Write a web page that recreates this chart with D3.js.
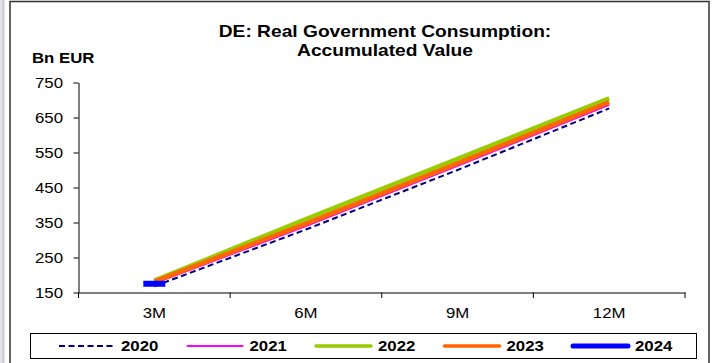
<!DOCTYPE html>
<html>
<head>
<meta charset="utf-8">
<script src="https://cdn.jsdelivr.net/npm/d3@7/dist/d3.min.js"></script>
<style>
  html, body { margin: 0; padding: 0; background: #fff; }
  svg { display: block; font-family: "Liberation Sans", Arial, sans-serif; }
</style>
</head>
<body>
<svg id="chart" width="712" height="363"></svg>
<script>
// ---- data ----
const categories = ["3M", "6M", "9M", "12M"];
const yTicks = [150, 250, 350, 450, 550, 650, 750];
const years = ["2020", "2021", "2022", "2023", "2024"];
const v2020 = [168, 330, 500, 676];
const v2021 = [176, 340, 512, 686];
const v2022 = [184, 360, 532, 705];
const v2023 = [181, 347, 519, 694];
const v2024 = [175];
const titleLines = ["DE: Real Government Consumption:", "Accumulated Value"];
const yUnit = "Bn EUR";

const seriesValues = [v2020, v2021, v2022, v2023, v2024];
const styles = [
  { color: "#000080", width: 2, dash: "6,3.5", legendWidth: 2 },
  { color: "#FF00FF", width: 2, dash: null, legendWidth: 2 },
  { color: "#99CC00", width: 4.5, dash: null, legendWidth: 3.5 },
  { color: "#FF6600", width: 4.5, dash: null, legendWidth: 3.5 },
  { color: "#0000FF", width: 6, dash: null, legendWidth: 5 }
];

const svg = d3.select("#chart");
const SX = 1.2; // horizontal text stretch of the original

function txt(g, x, y, s, opts) {
  opts = opts || {};
  return g.append("text")
    .attr("transform", `translate(${x},${y}) scale(${SX},1)`)
    .attr("text-anchor", opts.anchor || "start")
    .attr("font-size", opts.size || 14)
    .attr("font-weight", opts.bold ? "bold" : "normal")
    .attr("fill", "#000")
    .text(s);
}

// left gray strip & frame
svg.append("rect").attr("x", 0).attr("y", 0).attr("width", 5).attr("height", 363).attr("fill", "#e4e4ea");
svg.append("line").attr("x1", 3).attr("x2", 3).attr("y1", 0).attr("y2", 363).attr("stroke", "#b8b8c0").attr("stroke-width", 1);
svg.append("rect").attr("x", 10).attr("y", 1.5).attr("width", 699).attr("height", 370)
  .attr("fill", "#fff").attr("stroke", "#333").attr("stroke-width", 1.5);

// scales
const x = d3.scaleBand().domain(categories).range([78.5, 685]).paddingInner(0).paddingOuter(0);
const y = d3.scaleLinear().domain([150, 750]).range([292.5, 82.5]);
const cx = c => x(c) + x.bandwidth() / 2;

// title
titleLines.forEach((t, i) => txt(svg, 385, 37 + i * 18.5, t, { anchor: "middle", size: 16, bold: true }));
txt(svg, 32, 63, yUnit, { bold: true, size: 14 });

// y axis
const yAxisG = svg.append("g").attr("transform", "translate(78.5,0)")
  .call(d3.axisLeft(y).tickValues(yTicks).tickSize(5).tickSizeOuter(0).tickFormat(""));
yAxisG.select(".domain").attr("stroke", "#000");
yAxisG.selectAll(".tick line").attr("stroke", "#000");
yTicks.forEach(t => txt(svg, 63, y(t) + 5, String(t), { anchor: "end", size: 14 }));

// x axis
const xAxisG = svg.append("g").attr("transform", "translate(0,292.5)")
  .call(d3.axisBottom(x).tickSize(0).tickSizeOuter(0).tickFormat(""));
xAxisG.select(".domain").attr("stroke", "#000");
const tickPos = categories.map(c => x(c)).concat([x(categories[categories.length - 1]) + x.bandwidth()]);
svg.selectAll(".xtick").data(tickPos).enter().append("line")
  .attr("x1", d => d).attr("x2", d => d).attr("y1", 292.5).attr("y2", 298)
  .attr("stroke", "#000");
categories.forEach(c => txt(svg, cx(c), 318, c, { anchor: "middle", size: 14 }));

// lines
const line = d3.line().x((d, i) => cx(categories[i])).y(d => y(d));
seriesValues.forEach((vals, k) => {
  const st = styles[k];
  if (vals.length > 1) {
    svg.append("path").datum(vals)
      .attr("d", line)
      .attr("fill", "none")
      .attr("stroke", st.color)
      .attr("stroke-width", st.width)
      .attr("stroke-dasharray", st.dash)
      .attr("stroke-linejoin", "round");
  } else {
    // single-point series shown as a short dash marker
    const px = cx(categories[0]), py = y(vals[0]);
    svg.append("line")
      .attr("x1", px - 11).attr("x2", px + 11).attr("y1", py).attr("y2", py)
      .attr("stroke", st.color).attr("stroke-width", st.width);
  }
});

// legend
svg.append("rect").attr("x", 30.5).attr("y", 333.5).attr("width", 666).attr("height", 25)
  .attr("fill", "#fff").attr("stroke", "#000").attr("stroke-width", 1);
years.forEach((yr, i) => {
  const st = styles[i];
  const lx = 59 + i * 128.5;
  svg.append("line")
    .attr("x1", lx).attr("x2", lx + 55).attr("y1", 346).attr("y2", 346)
    .attr("stroke", st.color).attr("stroke-width", st.legendWidth)
    .attr("stroke-dasharray", st.dash)
    .attr("stroke-linecap", st.dash ? "butt" : "round");
  txt(svg, lx + 62, 351, yr, { bold: true, size: 14 });
});
</script>
</body>
</html>
